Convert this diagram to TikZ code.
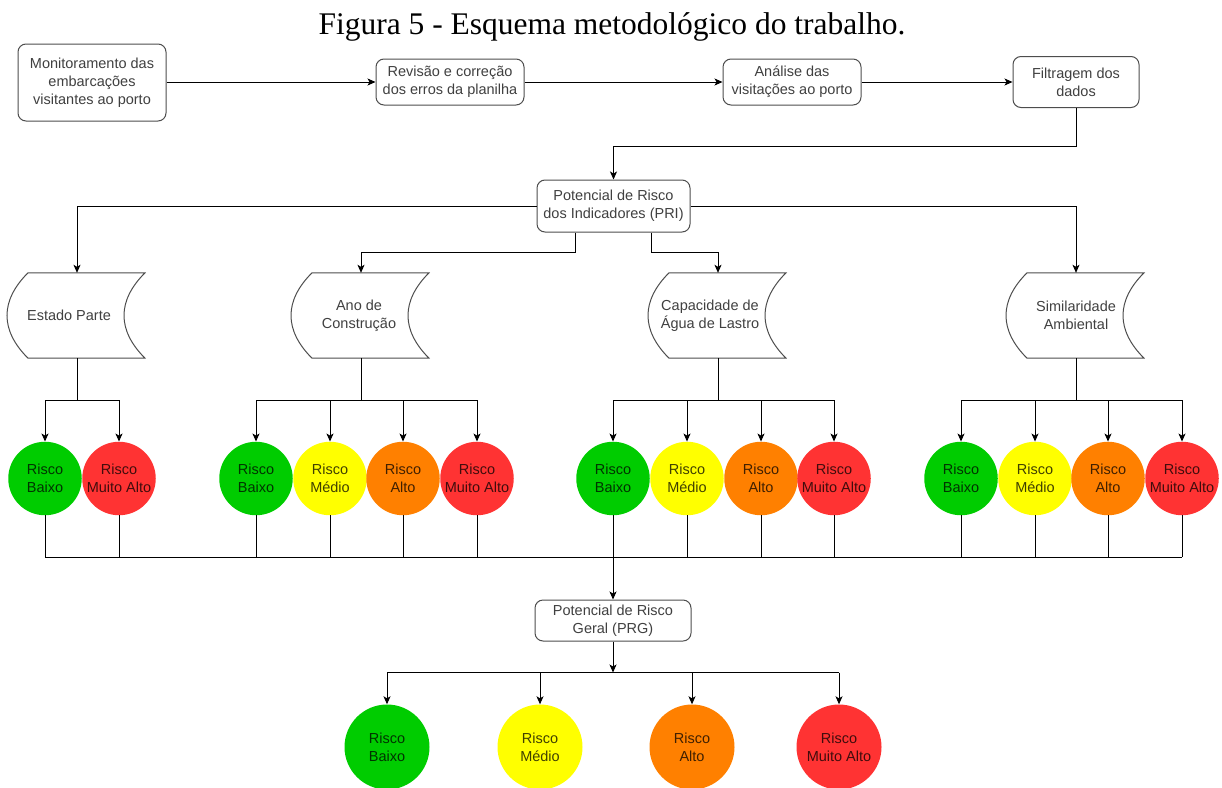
\documentclass[tikz,border=0pt]{standalone}
\usepackage{fontspec}
\setmainfont{Liberation Serif}
\newfontfamily\arialf{Liberation Sans}
\usetikzlibrary{arrows.meta,calc}
\definecolor{rgreen}{HTML}{00CC00}
\definecolor{ryellow}{HTML}{FFFF00}
\definecolor{rorange}{HTML}{FF8000}
\definecolor{rred}{HTML}{FF3333}
\definecolor{boxline}{HTML}{4D4D4D}
\definecolor{boxtext}{HTML}{404040}
\tikzset{
  conn/.style={draw=black, line width=1pt},
  arr/.style={conn, -{Stealth[length=8pt,width=7pt,inset=2pt]}},
  procbox/.style={draw=boxline, line width=1pt, rounded corners=8pt, fill=white,
    align=center, text=boxtext, inner sep=0pt,
    font=\arialf\fontsize{14.5}{18}\selectfont},
  dsnode/.style={draw=none, minimum width=137pt, minimum height=85pt, inner sep=0pt},
  dsline/.style={draw=boxline, line width=1pt},
  dstext/.style={align=center, text=boxtext, inner sep=0pt,
    font=\arialf\fontsize{14.5}{18}\selectfont},
  riskc/.style={circle, draw=none, minimum size=73.5pt, inner sep=0pt},
  riskbig/.style={circle, draw=none, minimum size=85pt, inner sep=0pt},
  risklbl/.style={align=center, text=black, text opacity=0.75, inner sep=0pt,
    font=\arialf\fontsize{14.5}{18}\selectfont},
}
\newcommand\dstore[4]{%
  \node[dsnode] (#1) at (#2,315.5) {};
  \draw[dsline] ([xshift=-49pt]#1.north) -- ([xshift=68pt]#1.north)
    .. controls ([xshift=40pt,yshift=-28pt]#1.north) and ([xshift=40pt,yshift=28pt]#1.south) .. ([xshift=68pt]#1.south)
    -- ([xshift=-49pt]#1.south)
    .. controls ([xshift=-77pt,yshift=28pt]#1.south) and ([xshift=-77pt,yshift=-28pt]#1.north) .. cycle;
  \node[dstext] (#1t) at ([xshift=#4pt]#1.center) {#3};
}
\newcommand\rcirc[5]{% style, name, x, y, colour/text
  \node[#1, fill=#4] (#2) at (#3) {};
  \node[risklbl] (#2t) at (#2.center) {#5};
}
\begin{document}
\begin{tikzpicture}[x=1pt,y=-1pt]
\useasboundingbox (0,0) rectangle (1222,787);

\node[anchor=base, inner sep=0pt, font=\fontsize{31.5}{36}\selectfont] (title) at (612,34)
  {Figura 5 - Esquema metodológico do trabalho.};

\node[procbox, minimum width=148pt, minimum height=77pt] (b1) at (92,82.5)
  {Monitoramento das\\embarcações\\visitantes ao porto};
\node[procbox, minimum width=148pt, minimum height=46pt] (b2) at (450,82)
  {Revisão e correção\\dos erros da planilha};
\node[procbox, minimum width=138pt, minimum height=46pt] (b3) at (792,82)
  {Análise das\\visitações ao porto};
\node[procbox, minimum width=126pt, minimum height=51pt] (b4) at (1076,82)
  {Filtragem dos\\dados};
\node[procbox, minimum width=153pt, minimum height=52pt] (pri) at (613.5,206)
  {Potencial de Risco\\dos Indicadores (PRI)};
\node[procbox, minimum width=156pt, minimum height=41pt] (prg) at (613,620.5)
  {Potencial de Risco\\Geral (PRG)};

\draw[arr] (b1.east |- b2.west) -- (b2.west);
\draw[arr] (b2.east) -- (b3.west);
\draw[arr] (b3.east) -- (b4.west);
\draw[arr] (b4.south) -- ++(0,38) -| (pri.north);

\dstore{est}{77}{Estado Parte}{-8}
\dstore{ano}{361}{Ano de\\Construção}{-2}
\dstore{cap}{718}{Capacidade de\\Água de Lastro}{-8}
\dstore{sim}{1076}{Similaridade\\Ambiental}{0}

\draw[arr] (pri.west) -| (est.north);
\draw[arr] (pri.east) -| (sim.north);
\draw[arr] ([xshift=-38pt]pri.south) -- ++(0,20) -| (ano.north);
\draw[arr] ([xshift=38pt]pri.south) -- ++(0,20) -| (cap.north);

% row of risk circles
\rcirc{riskc}{e1}{45,478.5}{rgreen}{Risco\\Baixo}
\rcirc{riskc}{e2}{119,478.5}{rred}{Risco\\Muito Alto}
\rcirc{riskc}{a1}{256,478.5}{rgreen}{Risco\\Baixo}
\rcirc{riskc}{a2}{330,478.5}{ryellow}{Risco\\Médio}
\rcirc{riskc}{a3}{403,478.5}{rorange}{Risco\\Alto}
\rcirc{riskc}{a4}{477,478.5}{rred}{Risco\\Muito Alto}
\rcirc{riskc}{c1}{613,478.5}{rgreen}{Risco\\Baixo}
\rcirc{riskc}{c2}{687,478.5}{ryellow}{Risco\\Médio}
\rcirc{riskc}{c3}{761,478.5}{rorange}{Risco\\Alto}
\rcirc{riskc}{c4}{834,478.5}{rred}{Risco\\Muito Alto}
\rcirc{riskc}{s1}{961,478.5}{rgreen}{Risco\\Baixo}
\rcirc{riskc}{s2}{1035,478.5}{ryellow}{Risco\\Médio}
\rcirc{riskc}{s3}{1108,478.5}{rorange}{Risco\\Alto}
\rcirc{riskc}{s4}{1182,478.5}{rred}{Risco\\Muito Alto}

\foreach \src/\list in {est/{e1,e2}, ano/{a1,a2,a3,a4}, cap/{c1,c2,c3,c4}, sim/{s1,s2,s3,s4}}{
  \foreach \t in \list {
    \draw[arr] (\src.south) -- ++(0,42) -| (\t.north);
  }
}

\coordinate (bus) at (613,557);
\foreach \t in {e1,e2,a1,a2,a3,a4,c2,c3,c4,s1,s2,s3,s4}{
  \draw[conn] (\t.south) -- (\t.south |- bus);
}
\draw[conn] (e1.south |- bus) -- (s4.south |- bus);
\draw[arr] (c1.south) -- (prg.north);

% final risk circles
\rcirc{riskbig}{g1}{387,747}{rgreen}{Risco\\Baixo}
\rcirc{riskbig}{g2}{540,747}{ryellow}{Risco\\Médio}
\rcirc{riskbig}{g3}{692,747}{rorange}{Risco\\Alto}
\rcirc{riskbig}{g4}{839,747}{rred}{Risco\\Muito Alto}

\draw[arr] (prg.south) -- ++(0,31) coordinate (pbus);
\draw[conn] (g1.north |- pbus) -- (g4.north |- pbus);
\foreach \t in {g1,g2,g3,g4}{
  \draw[arr] (\t.north |- pbus) -- (\t.north);
}
\end{tikzpicture}
\end{document}
